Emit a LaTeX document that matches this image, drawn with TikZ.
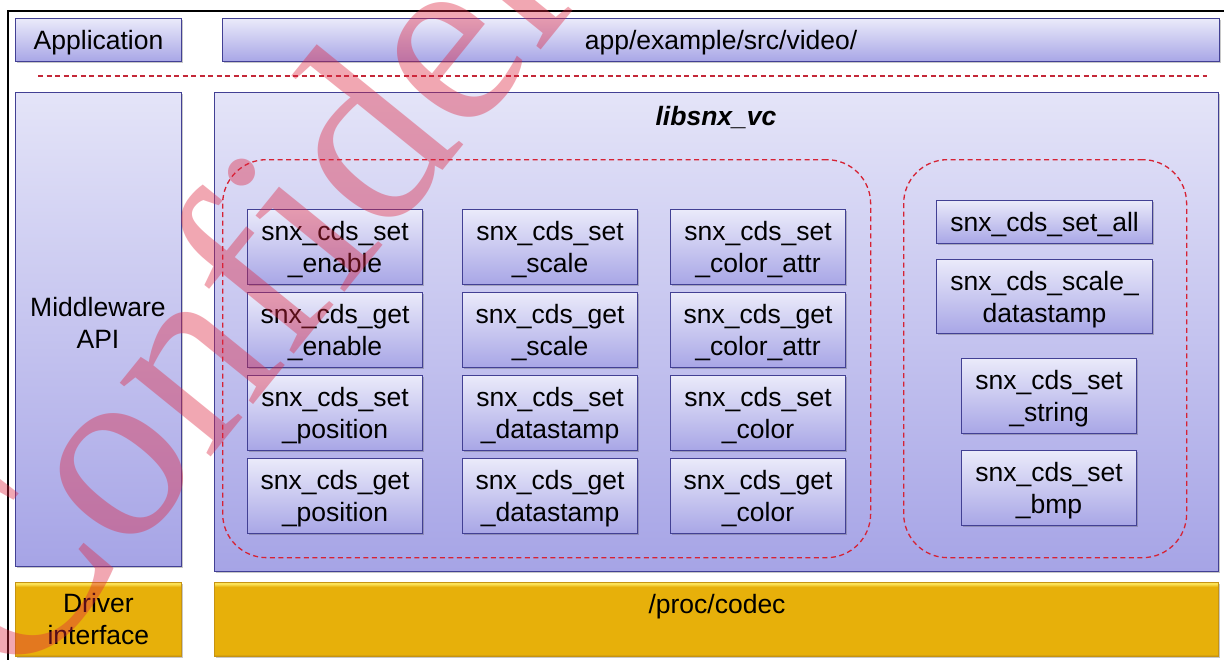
\documentclass[tikz,border=0pt]{standalone}
\usepackage{fontspec}
\setmainfont{Liberation Sans}
\newfontfamily\wmfont{Liberation Serif}
\usetikzlibrary{shadows}

\definecolor{boxline}{RGB}{66,64,148}
\definecolor{lavtop}{RGB}{234,234,250}
\definecolor{lavbot}{RGB}{168,166,230}
\definecolor{paneltop}{RGB}{228,228,248}
\definecolor{panelbot}{RGB}{166,164,230}
\definecolor{gold}{RGB}{231,176,10}
\definecolor{goldtop}{RGB}{252,226,86}
\definecolor{golddark}{RGB}{190,140,20}
\definecolor{dashred}{RGB}{214,34,52}
\definecolor{sepred}{RGB}{196,40,56}
\definecolor{wmred}{RGB}{222,36,64}

\pgfdeclareverticalshading{goldbar}{100bp}{%
  color(0bp)=(golddark); color(25bp)=(golddark); color(26.5bp)=(gold);
  color(72bp)=(gold); color(74bp)=(goldtop); color(100bp)=(goldtop)}

\tikzset{
  x=1pt, y=-1pt,
  txt/.style={font=\fontsize{26.5}{32}\selectfont, align=center, text=black},
  softshadow/.style={drop shadow={shadow xshift=1.3pt, shadow yshift=-1.6pt, opacity=0.3, fill=black!70}},
  lav/.style={draw=boxline, line width=1.1pt, top color=lavtop, bottom color=lavbot,
              softshadow, inner sep=0pt, anchor=north west, txt, text depth=0pt},
  panel/.style={lav, top color=paneltop, bottom color=panelbot},
  fnbox/.style={lav, minimum width=175pt, minimum height=75pt},
  goldbox/.style={draw=golddark!80!gold, line width=0.8pt, shading=goldbar,
              softshadow, inner sep=0pt, anchor=north west, txt},
  group/.style={draw=dashred, dash pattern=on 5pt off 3.5pt, line width=1.3pt,
              rounded corners=44pt, inner sep=0pt, anchor=north west},
}

\begin{document}
\begin{tikzpicture}
  \useasboundingbox (0,0) rectangle (1224,659);
  \fill[white] (0,0) rectangle (1224,659);
  \clip (0,0) rectangle (1224,659);

  % outer frame (top and left edges)
  \coordinate (frameTR) at (1226,11);
  \coordinate (frameTL) at (8,11);
  \coordinate (frameBL) at (8,661);
  \draw[line width=2pt] (frameTR) -- (frameTL) -- (frameBL);

  % application layer
  \node[lav, minimum width=166pt, minimum height=43pt] (app) at (15,18) {Application};
  \node[lav, minimum width=997pt, minimum height=43pt] (appsrc) at (222,18) {app/example/src/video/};

  % user / kernel separator
  \coordinate (sepL) at (38,76);
  \coordinate (sepR) at (1207,76);
  \draw[sepred, line width=1.4pt, dash pattern=on 5pt off 3.5pt] (sepL) -- (sepR);

  % middleware layer
  \node[panel, minimum width=166pt, minimum height=474pt] (mw) at (15,92) {};
  \node[txt] (mwlabel) at (98,323) {Middleware\\API};
  \node[panel, minimum width=1004pt, minimum height=479pt] (lib) at (214,92) {};
  \node[txt, font=\fontsize{26.5}{32}\selectfont\bfseries\itshape] (libtitle) at (716,118) {libsnx\_vc};

  % API groups
  \node[group, minimum width=648pt, minimum height=398pt] (grpA) at (222,159) {};
  \node[group, minimum width=283pt, minimum height=398pt] (grpB) at (903,159) {};

  % first column
  \node[fnbox] (setenable) at (247,209) {snx\_cds\_set\\\_enable};
  \node[fnbox] (getenable) at (247,292) {snx\_cds\_get\\\_enable};
  \node[fnbox] (setpos)    at (247,375) {snx\_cds\_set\\\_position};
  \node[fnbox] (getpos)    at (247,458) {snx\_cds\_get\\\_position};
  % second column
  \node[fnbox] (setscale)  at (462,209) {snx\_cds\_set\\\_scale};
  \node[fnbox] (getscale)  at (462,292) {snx\_cds\_get\\\_scale};
  \node[fnbox] (setds)     at (462,375) {snx\_cds\_set\\\_datastamp};
  \node[fnbox] (getds)     at (462,458) {snx\_cds\_get\\\_datastamp};
  % third column
  \node[fnbox] (setcattr)  at (670,209) {snx\_cds\_set\\\_color\_attr};
  \node[fnbox] (getcattr)  at (670,292) {snx\_cds\_get\\\_color\_attr};
  \node[fnbox] (setcolor)  at (670,375) {snx\_cds\_set\\\_color};
  \node[fnbox] (getcolor)  at (670,458) {snx\_cds\_get\\\_color};
  % second group
  \node[lav, minimum width=216pt, minimum height=43pt] (setall) at (936,200) {snx\_cds\_set\_all};
  \node[lav, minimum width=216pt, minimum height=74pt] (scaleds) at (936,259) {snx\_cds\_scale\_\\datastamp};
  \node[fnbox] (setstring) at (961,358) {snx\_cds\_set\\\_string};
  \node[fnbox] (setbmp)    at (961,450) {snx\_cds\_set\\\_bmp};

  % driver layer
  \node[goldbox, minimum width=166pt, minimum height=74pt] (drv) at (15,582) {Driver\\interface};
  \node[goldbox, minimum width=1004pt, minimum height=74pt] (proc) at (214,582) {};
  \node[txt] (proclabel) at (717,607) {/proc/codec};

  % watermark
  \node[rotate=51, anchor=base west, text=wmred, opacity=0.4, inner sep=0pt,
        font=\wmfont\fontsize{255}{255}\selectfont] (wm) at (20,693) {Confidential};
\end{tikzpicture}
\end{document}
